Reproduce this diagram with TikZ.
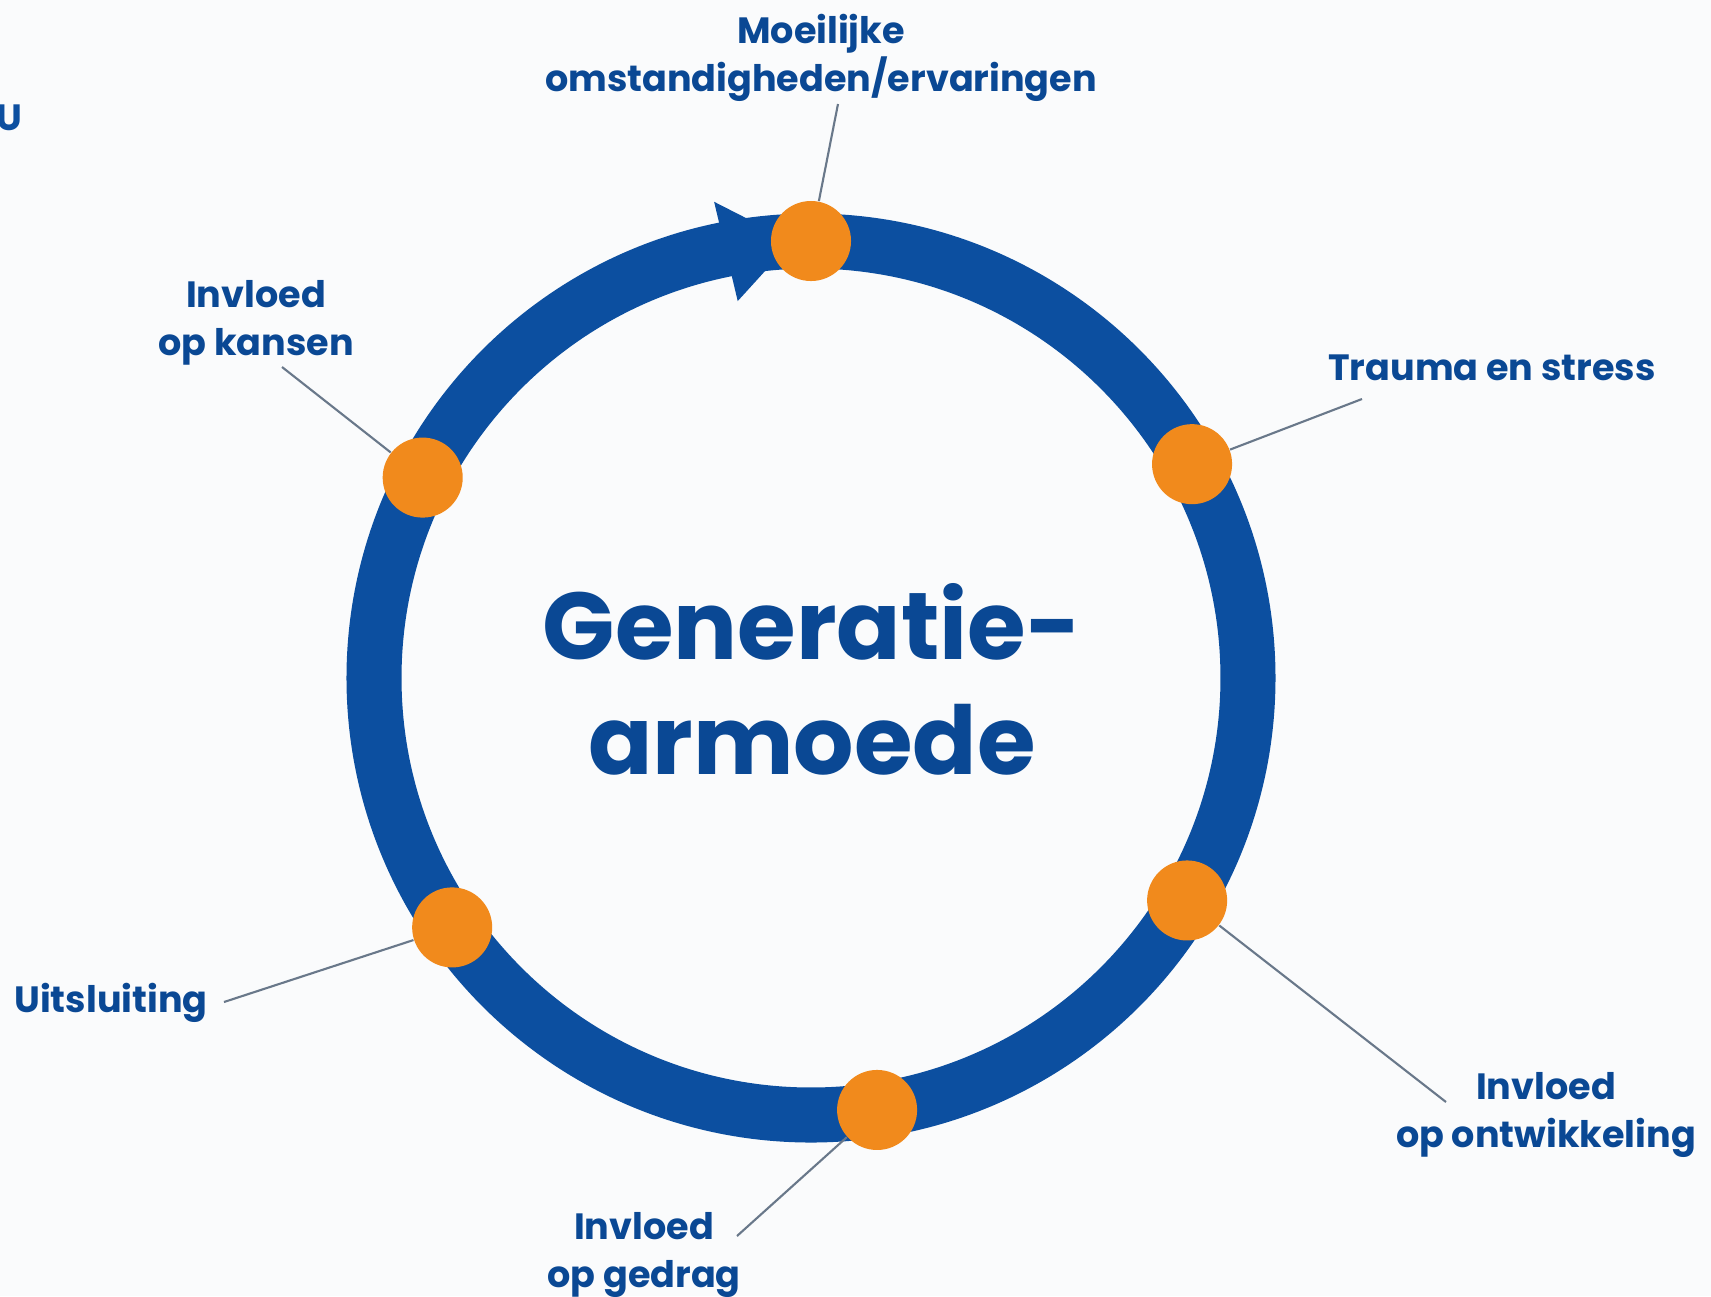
\documentclass[tikz,border=0pt]{standalone}
\usepackage{fontspec}
\setmainfont{Poppins}
\definecolor{ringblue}{RGB}{12,79,160}
\definecolor{textblue}{RGB}{10,72,148}
\definecolor{dotorange}{RGB}{241,138,28}
\definecolor{leadgray}{RGB}{105,120,138}
\definecolor{paper}{RGB}{250,251,252}
\tikzset{
	dot/.style={circle, fill=dotorange, minimum size=0.8cm, inner sep=0pt},
	lbl/.style={text=textblue, font=\bfseries\fontsize{10.4}{13.7}\selectfont, align=center, inner sep=0pt},
	leader/.style={draw=leadgray, line width=0.6pt}
}
\begin{document}
\begin{tikzpicture}[x=0.01cm, y=0.01cm]
		\pgfmathsetmacro{\R}{437}
		\fill[paper] (0,0) rectangle (1711,-1296);
		\useasboundingbox (0,0) rectangle (1711,-1296);
		\begin{scope}[shift={(811,-678)}]
			\draw[ringblue, line width=0.55cm] (0,0) circle (\R);
			\fill[ringblue] (101:384) -- (92.5:\R) -- (101.5:486) -- cycle;
			\node[dot] (moeilijk) at (90:\R) {};
			\node[dot] (trauma) at (29.3:\R) {};
			\node[dot] (ontwik) at (-30.6:\R) {};
			\node[dot] (gedrag) at (-81.3:\R) {};
			\node[dot] (uitsl) at (214.8:\R) {};
			\node[dot] (kansen) at (152.7:\R) {};
		\end{scope}
		\node[text=textblue, font=\bfseries\fontsize{27}{32.7}\selectfont, align=center] (titel) at (812,-679) {Generatie-\\armoede};
		\node[lbl] (tmoeilijk) at (821,-58) {Moeilijke\\omstandigheden/ervaringen};
		\node[lbl] (ttrauma) at (1492,-368) {Trauma en stress};
		\node[lbl] (tontwik) at (1546,-1115) {Invloed\\op ontwikkeling};
		\node[lbl] (tgedrag) at (644,-1255) {Invloed\\op gedrag};
		\node[lbl] (tuitsl) at (111,-1003) {Uitsluiting};
		\node[lbl] (tkansen) at (256,-323) {Invloed\\op kansen};
		\node[lbl, text=ringblue] (tu) at (9,-118) {U};
		\coordinate (lmoeilijk) at (838,-104);
		\coordinate (ltrauma) at (1362,-399);
		\coordinate (lontwik) at (1446,-1102);
		\coordinate (lgedrag) at (737,-1236);
		\coordinate (luitsl) at (224,-1002);
		\coordinate (lkansen) at (282,-367);
		\draw[leader] (lmoeilijk) -- (moeilijk);
		\draw[leader] (ltrauma) -- (trauma);
		\draw[leader] (lontwik) -- (ontwik);
		\draw[leader] (lgedrag) -- (gedrag);
		\draw[leader] (luitsl) -- (uitsl);
		\draw[leader] (lkansen) -- (kansen);
	\end{tikzpicture}
\end{document}
